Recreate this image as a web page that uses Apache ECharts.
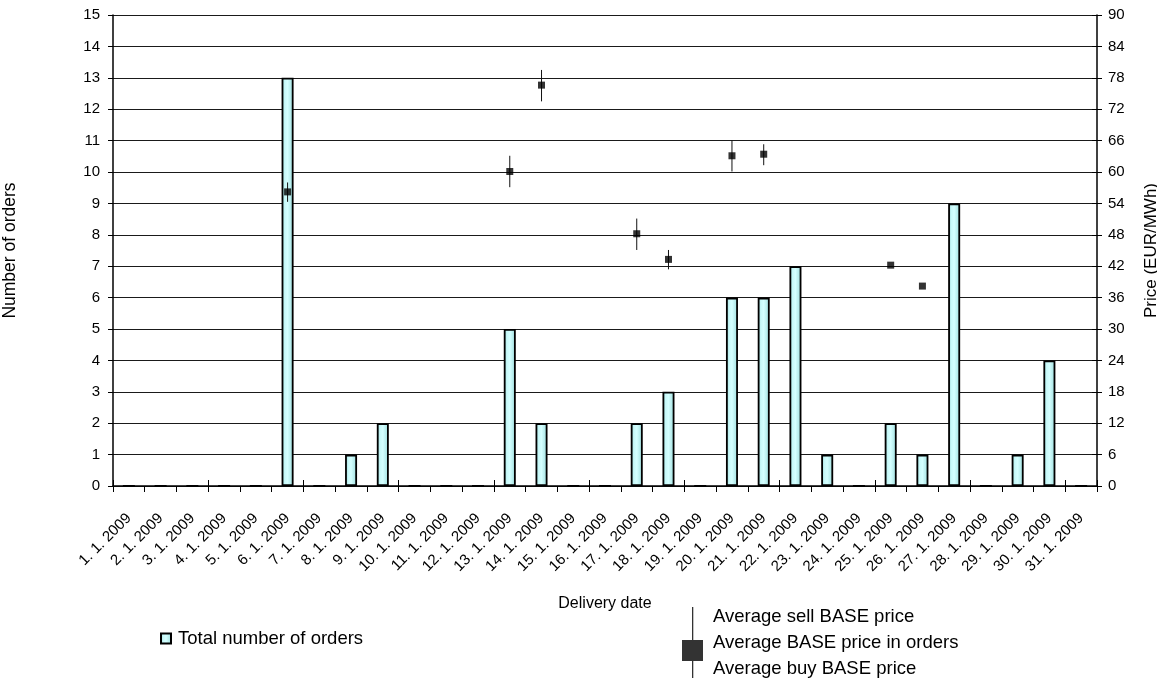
<!DOCTYPE html>
<html>
<head>
<meta charset="utf-8">
<script src="https://cdn.jsdelivr.net/npm/echarts@6/dist/echarts.min.js"></script>
<style>
html,body{margin:0;padding:0;background:#fff;}
#chart{width:1157px;height:681px;}
</style>
</head>
<body>
<div id="chart"></div>
<script>
const categories = ['1. 1. 2009','2. 1. 2009','3. 1. 2009','4. 1. 2009','5. 1. 2009','6. 1. 2009','7. 1. 2009','8. 1. 2009','9. 1. 2009','10. 1. 2009','11. 1. 2009','12. 1. 2009','13. 1. 2009','14. 1. 2009','15. 1. 2009','16. 1. 2009','17. 1. 2009','18. 1. 2009','19. 1. 2009','20. 1. 2009','21. 1. 2009','22. 1. 2009','23. 1. 2009','24. 1. 2009','25. 1. 2009','26. 1. 2009','27. 1. 2009','28. 1. 2009','29. 1. 2009','30. 1. 2009','31. 1. 2009'];
const totalOrders = [0,0,0,0,0,13,0,1,2,0,0,0,5,2,0,0,2,3,0,6,6,7,1,0,2,1,9,0,1,4,0];
const avgPrice = [null,null,null,null,null,56.2,null,null,null,null,null,null,60.1,76.6,null,null,48.2,43.3,null,63.1,63.4,null,null,null,42.2,38.2,null,null,null,null,null];
const avgSell  = [null,null,null,null,null,58.0,null,null,null,null,null,null,63.1,79.5,null,null,51.1,45.1,null,66.1,65.3,null,null,null,null,null,null,null,null,null,null];
const avgBuy   = [null,null,null,null,null,54.3,null,null,null,null,null,null,57.1,73.5,null,null,45.1,41.4,null,60.1,61.3,null,null,null,null,null,null,null,null,null,null];
const countTicks = [0,1,2,3,4,5,6,7,8,9,10,11,12,13,14,15];
const priceTicks = [0,6,12,18,24,30,36,42,48,54,60,66,72,78,84,90];

const errData = [];
avgSell.forEach((v, i) => { if (v != null && avgBuy[i] != null) errData.push([i, v, avgBuy[i]]); });

const FONT = '"Liberation Sans", Arial, sans-serif';
const barFill = new echarts.graphic.LinearGradient(0, 0, 1, 0, [
  {offset: 0, color: '#8cc6c6'},
  {offset: 0.25, color: '#c6f8f8'},
  {offset: 0.5, color: '#d4ffff'},
  {offset: 0.8, color: '#b2eaea'},
  {offset: 1, color: '#92cccc'}
]);

const chart = echarts.init(document.getElementById('chart'), null, {renderer: 'canvas'});
chart.setOption({
  animation: false,
  backgroundColor: '#fff',
  textStyle: {fontFamily: FONT, color: '#000'},
  grid: {left: 113, right: 60, top: 15, bottom: 195, containLabel: false, outerBoundsMode: 'none'},
  legend: [
    {
      data: ['Total number of orders'],
      left: 160, top: 629, padding: 0,
      itemWidth: 10, itemHeight: 10, icon: 'rect',
      textStyle: {fontFamily: FONT, fontSize: 18.5, color: '#000', padding: [0, 0, 0, 2]}
    },
    {
      data: ['Average BASE price in orders'],
      left: 682, top: 598, padding: 0,
      itemWidth: 21, itemHeight: 71,
      icon: 'path://M0,33 L21,33 L21,54 L0,54 Z M10,0 L11.3,0 L11.3,71 L10,71 Z',
      formatter: () => 'Average sell BASE price\nAverage BASE price in orders\nAverage buy BASE price',
      textStyle: {fontFamily: FONT, fontSize: 18.5, color: '#000', lineHeight: 26, padding: [0, 0, 11, 5]}
    }
  ],
  xAxis: [
    {
      type: 'category', data: categories, boundaryGap: true,
      name: 'Delivery date', nameLocation: 'middle', nameGap: 110,
      nameTextStyle: {fontFamily: FONT, fontSize: 16, color: '#000'},
      axisLine: {lineStyle: {color: '#000', width: 1.5}},
      axisTick: {show: true, length: 6, lineStyle: {color: '#000'}},
      axisLabel: {rotate: 45, margin: 30, interval: 0, fontFamily: FONT, fontSize: 15, color: '#000'},
      splitLine: {show: false}
    },
    {
      type: 'category', data: categories, boundaryGap: true, position: 'bottom',
      axisLine: {show: false},
      axisTick: {show: true, inside: true, length: 6, lineStyle: {color: '#000'}},
      axisLabel: {show: false},
      splitLine: {show: false}
    }
  ],
  yAxis: [
    {
      type: 'value', min: countTicks[0], max: countTicks[countTicks.length - 1], interval: countTicks[1] - countTicks[0], position: 'left',
      name: 'Number of orders', nameLocation: 'middle', nameGap: 94, nameRotate: 90,
      nameTextStyle: {fontFamily: FONT, fontSize: 17.5, color: '#000'},
      axisLine: {show: true, lineStyle: {color: '#000', width: 1.5}},
      axisTick: {show: true, length: 5, lineStyle: {color: '#000'}},
      axisLabel: {margin: 13, fontFamily: FONT, fontSize: 15, color: '#000'},
      splitLine: {show: true, lineStyle: {color: '#1a1a1a', width: 1}}
    },
    {
      type: 'value', min: priceTicks[0], max: priceTicks[priceTicks.length - 1], interval: priceTicks[1] - priceTicks[0], position: 'right',
      name: 'Price (EUR/MWh)', nameLocation: 'middle', nameGap: 46, nameRotate: 90,
      nameTextStyle: {fontFamily: FONT, fontSize: 17, color: '#000'},
      axisLine: {show: true, lineStyle: {color: '#000', width: 1.5}},
      axisTick: {show: true, length: 5, lineStyle: {color: '#000'}},
      axisLabel: {margin: 11, fontFamily: FONT, fontSize: 15, color: '#000'},
      splitLine: {show: false}
    },
    {
      type: 'value', min: priceTicks[0], max: priceTicks[priceTicks.length - 1], interval: priceTicks[1] - priceTicks[0], position: 'right',
      axisLine: {show: false},
      axisTick: {show: true, inside: true, length: 5, lineStyle: {color: '#000'}},
      axisLabel: {show: false},
      splitLine: {show: false}
    }
  ],
  series: [
    {
      name: 'Total number of orders', type: 'bar', data: totalOrders,
      xAxisIndex: 0, yAxisIndex: 0, barWidth: 12,
      itemStyle: {color: barFill, borderColor: '#000', borderWidth: 1.8},
      z: 2
    },
    {
      name: 'Average price range', type: 'custom', xAxisIndex: 0, yAxisIndex: 1,
      data: errData,
      renderItem: (params, api) => {
        const x = api.value(0);
        const p1 = api.coord([x, api.value(1)]);
        const p2 = api.coord([x, api.value(2)]);
        return {type: 'line', shape: {x1: p1[0], y1: p1[1], x2: p2[0], y2: p2[1]},
                style: {stroke: '#111', lineWidth: 1}};
      },
      z: 3
    },
    {
      name: 'Average BASE price in orders', type: 'scatter', data: avgPrice,
      xAxisIndex: 0, yAxisIndex: 1,
      symbol: 'rect', symbolSize: 7,
      itemStyle: {color: '#000'},
      z: 4
    }
  ]
});
</script>
</body>
</html>
